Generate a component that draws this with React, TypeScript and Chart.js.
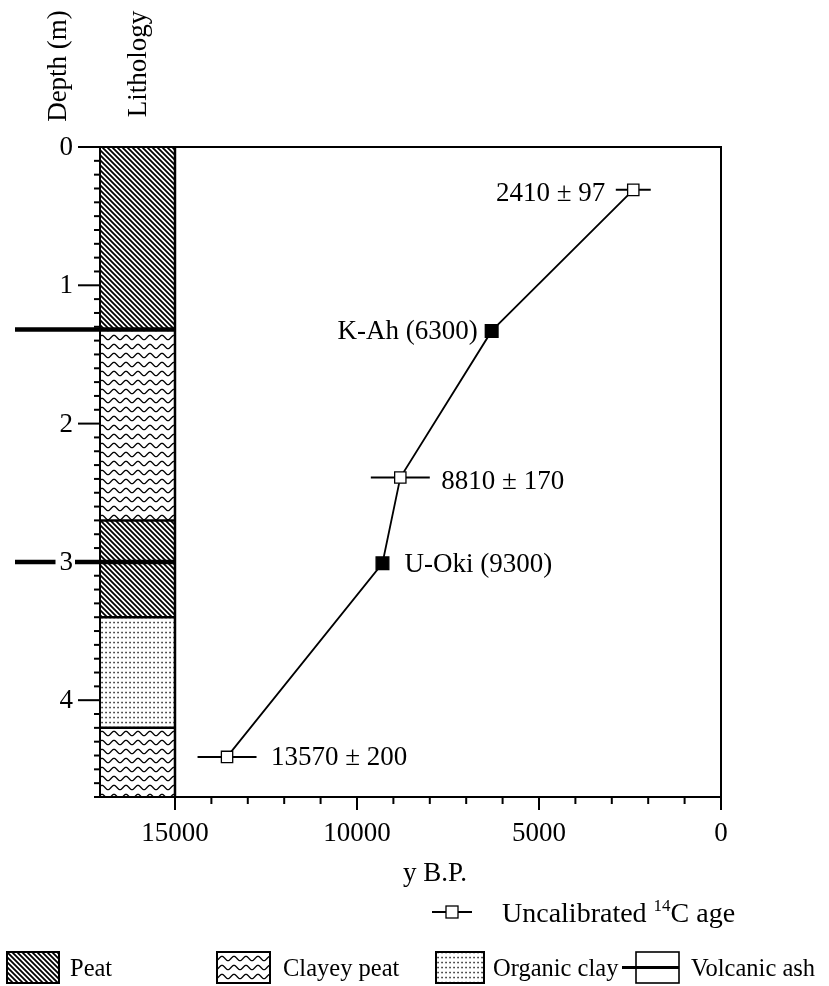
import { useEffect, useRef } from 'react'
import { Chart, registerables } from 'chart.js'

Chart.register(...registerables)

// dated levels: age (y B.P.) against depth (m)
const SAMPLE_AGES = [2410, 6300, 8810, 9300, 13570]
const SAMPLE_DEPTHS = [0.31, 1.33, 2.39, 3.01, 4.41]
const SAMPLE_TYPES = ['c14', 'tephra', 'c14', 'tephra', 'c14']
const SAMPLE_NAMES = ['', 'K-Ah', '', 'U-Oki', '']
const SAMPLE_SIGMAS = [97, 0, 170, 0, 200]
const SAMPLE_BAR_RANGE = [480, 0, 810, 0, 810]

// lithology column
const LAYER_TOPS = [0, 1.32, 2.7, 3.4, 4.2]
const LAYER_BOTTOMS = [1.32, 2.7, 3.4, 4.2, 4.7]
const LAYER_TYPES = ['peat', 'clayey', 'peat', 'organic', 'clayey']
const ASH_DEPTHS = [1.32, 3.0]

// axes
const AGE_TICKS = [0, 5000, 10000, 15000]
const AGE_MINOR = 1000
const AGE_MAX = 15000
const COLUMN_EDGE = 17060 // left edge of the lithology column on the age scale
const DEPTH_TICKS = [0, 1, 2, 3, 4]
const DEPTH_MINOR = 0.1
const DEPTH_MAX = 4.7

const LEGEND_ITEMS = ['Peat', 'Clayey peat', 'Organic clay', 'Volcanic ash']
const LEGEND_TYPES = ['peat', 'clayey', 'organic', 'ash']

// styling
const SERIF = '"Liberation Serif", "Times New Roman", serif'
const LABEL_DX = [-28, -14, 41, 22, 44]
const LABEL_DY = [3, 0, 3, 1, 0]
const LABEL_ALIGN: CanvasTextAlign[] = ['right', 'right', 'left', 'left', 'left']
const LEGEND_X = [7, 217, 436, 636]
const LEGEND_W = [52, 53, 48, 43]
const LEGEND_TEXT_X = [70, 283, 493, 691]

function makePattern(kind: string) {
  const c = document.createElement('canvas')
  const g = c.getContext('2d')!
  if (kind === 'peat') {
    c.width = 5
    c.height = 5
    g.fillStyle = '#fff'
    g.fillRect(0, 0, 5, 5)
    g.strokeStyle = '#000'
    g.lineWidth = 1.8
    g.beginPath()
    g.moveTo(-1, -1); g.lineTo(6, 6)
    g.moveTo(4, -1); g.lineTo(11, 6)
    g.moveTo(-6, -1); g.lineTo(1, 6)
    g.stroke()
  } else if (kind === 'clayey') {
    c.width = 12
    c.height = 9
    g.fillStyle = '#fff'
    g.fillRect(0, 0, 12, 9)
    g.strokeStyle = '#000'
    g.lineWidth = 1.3
    g.beginPath()
    for (let i = 0; i <= 24; i++) {
      const x = i / 2
      const y = 4.5 + 2.2 * Math.cos((x / 12) * Math.PI * 2)
      if (i === 0) g.moveTo(x, y)
      else g.lineTo(x, y)
    }
    g.stroke()
  } else {
    c.width = 4
    c.height = 5
    g.fillStyle = '#fff'
    g.fillRect(0, 0, 4, 5)
    g.fillStyle = '#222'
    g.fillRect(1.3, 1.8, 1.5, 1.5)
  }
  return g.createPattern(c, 'repeat')!
}

export default function App() {
  const chartRef = useRef<HTMLCanvasElement>(null)
  const chartInstance = useRef<Chart | null>(null)

  useEffect(() => {
    if (!chartRef.current) return
    if (chartInstance.current) chartInstance.current.destroy()
    const ctx = chartRef.current.getContext('2d')
    if (!ctx) return

    const patterns: Record<string, CanvasPattern> = {
      peat: makePattern('peat'),
      clayey: makePattern('clayey'),
      organic: makePattern('organic')
    }

    const line = (c: CanvasRenderingContext2D, x0: number, y0: number, x1: number, y1: number) => {
      c.beginPath()
      c.moveTo(x0, y0)
      c.lineTo(x1, y1)
      c.stroke()
    }

    const framePlugin = {
      id: 'frame',
      beforeDatasetsDraw(chart: any) {
        const { ctx: c, chartArea: a, scales } = chart
        const xs = scales.x
        const ys = scales.y
        const colL = xs.getPixelForValue(COLUMN_EDGE)
        const colR = xs.getPixelForValue(AGE_MAX)
        c.save()

        // lithology layers
        LAYER_TOPS.forEach((top, i) => {
          const y0 = ys.getPixelForValue(top)
          const y1 = ys.getPixelForValue(LAYER_BOTTOMS[i])
          c.fillStyle = patterns[LAYER_TYPES[i]]
          c.fillRect(colL, y0, colR - colL, y1 - y0)
        })
        c.strokeStyle = '#000'
        c.lineWidth = 2.5
        LAYER_TOPS.slice(1).forEach((d) => {
          const y = ys.getPixelForValue(d)
          line(c, colL, y, colR, y)
        })
        line(c, colR, a.top, colR, a.bottom)

        // frame
        c.lineWidth = 2
        c.strokeRect(a.left, a.top, a.right - a.left, a.bottom - a.top)

        // depth ticks
        const nDepth = Math.round(DEPTH_MAX / DEPTH_MINOR)
        for (let i = 0; i <= nDepth; i++) {
          const y = ys.getPixelForValue(i * DEPTH_MINOR)
          const len = i % 10 === 0 ? 22 : 6
          line(c, a.left - len, y, a.left, y)
        }
        // age ticks
        for (let v = 0; v <= AGE_MAX; v += AGE_MINOR) {
          const x = xs.getPixelForValue(v)
          const len = v % 5000 === 0 ? 13 : 7
          line(c, x, a.bottom, x, a.bottom + len)
        }

        // volcanic ash layers
        c.lineWidth = 4.5
        ASH_DEPTHS.forEach((d) => {
          const y = ys.getPixelForValue(d)
          line(c, 15, y, colR, y)
        })

        // tick labels
        c.fillStyle = '#000'
        c.font = `27px ${SERIF}`
        c.textBaseline = 'middle'
        c.textAlign = 'right'
        DEPTH_TICKS.forEach((d) => {
          const y = ys.getPixelForValue(d)
          const t = String(d)
          const w = c.measureText(t).width
          c.fillStyle = '#fff'
          c.fillRect(a.left - 28 - w - 3, y - 6, w + 6, 12)
          c.fillStyle = '#000'
          c.fillText(t, a.left - 27, y + 1)
        })
        c.textAlign = 'center'
        AGE_TICKS.forEach((v) => {
          c.fillText(String(v), xs.getPixelForValue(v), a.bottom + 37)
        })

        // error bars
        c.lineWidth = 2
        SAMPLE_AGES.forEach((age, i) => {
          const r = SAMPLE_BAR_RANGE[i]
          if (!r) return
          const y = ys.getPixelForValue(SAMPLE_DEPTHS[i])
          line(c, xs.getPixelForValue(age + r), y, xs.getPixelForValue(age - r), y)
        })
        c.restore()
      },
      afterDraw(chart: any) {
        const { ctx: c, scales } = chart
        const xs = scales.x
        const ys = scales.y
        c.save()
        c.fillStyle = '#000'
        c.font = `27px ${SERIF}`
        c.textBaseline = 'middle'

        // point labels
        SAMPLE_AGES.forEach((age, i) => {
          const text = SAMPLE_TYPES[i] === 'c14' ? `${age} ± ${SAMPLE_SIGMAS[i]}` : `${SAMPLE_NAMES[i]} (${age})`
          c.textAlign = LABEL_ALIGN[i]
          c.fillText(text, xs.getPixelForValue(age) + LABEL_DX[i], ys.getPixelForValue(SAMPLE_DEPTHS[i]) + LABEL_DY[i] + 1)
        })

        // axis titles
        c.textBaseline = 'alphabetic'
        c.textAlign = 'center'
        c.fillText('y B.P.', 435, 881)
        const vertical = (t: string, x: number, y: number) => {
          c.save()
          c.translate(x, y)
          c.rotate(-Math.PI / 2)
          c.fillText(t, 0, 0)
          c.restore()
        }
        vertical('Depth (m)', 66, 66)
        vertical('Lithology', 146, 64)

        // series legend
        c.strokeStyle = '#000'
        c.lineWidth = 1.8
        line(c, 432, 912, 472, 912)
        c.fillStyle = '#fff'
        c.lineWidth = 1.3
        c.fillRect(446, 906, 12, 12)
        c.strokeRect(446, 906, 12, 12)
        c.fillStyle = '#000'
        c.textAlign = 'left'
        c.font = `28px ${SERIF}`
        let tx = 502
        c.fillText('Uncalibrated ', tx, 922)
        tx += c.measureText('Uncalibrated ').width
        c.font = `17px ${SERIF}`
        c.fillText('14', tx, 911)
        tx += c.measureText('14').width
        c.font = `28px ${SERIF}`
        c.fillText('C age', tx, 922)

        // lithology legend
        c.font = `24.5px ${SERIF}`
        LEGEND_ITEMS.forEach((label, i) => {
          const x = LEGEND_X[i]
          const w = LEGEND_W[i]
          const type = LEGEND_TYPES[i]
          if (type === 'ash') {
            c.fillStyle = '#fff'
            c.fillRect(x, 952, w, 31)
            c.lineWidth = 1.6
            c.strokeRect(x, 952, w, 31)
            c.lineWidth = 3
            line(c, x - 14, 967.5, x + w, 967.5)
          } else {
            c.fillStyle = patterns[type]
            c.fillRect(x, 952, w, 31)
            c.lineWidth = 2
            c.strokeRect(x, 952, w, 31)
          }
          c.fillStyle = '#000'
          c.fillText(label, LEGEND_TEXT_X[i], 976)
        })
        c.restore()
      }
    }

    const points = SAMPLE_AGES.map((age, i) => ({ x: age, y: SAMPLE_DEPTHS[i] }))

    chartInstance.current = new Chart(ctx, {
      type: 'scatter',
      data: {
        datasets: [
          {
            data: points,
            showLine: true,
            borderColor: '#000',
            borderWidth: 1.8,
            pointStyle: 'rect',
            pointRadius: SAMPLE_TYPES.map((t) => (t === 'c14' ? 8 : 9)),
            pointBackgroundColor: SAMPLE_TYPES.map((t) => (t === 'c14' ? '#fff' : '#000')),
            pointBorderColor: '#000',
            pointBorderWidth: 1.3
          }
        ]
      },
      options: {
        animation: false,
        responsive: false,
        layout: { padding: { left: 100, top: 147, right: 108, bottom: 189 } },
        plugins: { legend: { display: false }, tooltip: { enabled: false } },
        scales: {
          x: { type: 'linear', reverse: true, min: 0, max: COLUMN_EDGE, display: false },
          y: { type: 'linear', reverse: true, min: 0, max: DEPTH_MAX, display: false }
        }
      },
      plugins: [framePlugin]
    })

    return () => {
      if (chartInstance.current) {
        chartInstance.current.destroy()
        chartInstance.current = null
      }
    }
  }, [])

  return (
    <div style={{ position: 'absolute', left: 0, top: 0, width: 829, height: 986, background: '#fff' }}>
      <canvas ref={chartRef} width={829} height={986} />
    </div>
  )
}
